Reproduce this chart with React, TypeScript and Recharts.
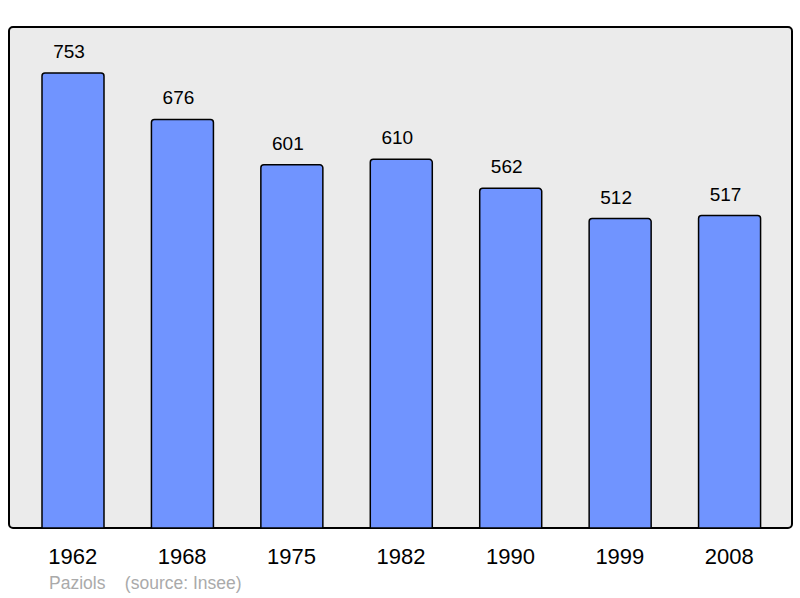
import React from 'react';
import { BarChart, Bar, XAxis, YAxis, LabelList } from 'recharts';

const years = ['1962', '1968', '1975', '1982', '1990', '1999', '2008'];
const population = [753, 676, 601, 610, 562, 512, 517];

const data = years.map((year, i) => ({ year, population: population[i] }));

const font = '"Liberation Sans", Arial, sans-serif';

const App = () => {
  return (
    <div style={{ position: 'absolute', left: 0, top: 0, width: 800, height: 598, background: '#fff', fontFamily: font }}>
      {/* plot frame */}
      <div
        style={{
          position: 'absolute',
          left: 8,
          top: 26,
          width: 785,
          height: 503,
          boxSizing: 'border-box',
          border: '2px solid #000',
          borderRadius: 5,
          background: '#ebebeb',
        }}
      />
      <div style={{ position: 'absolute', left: 0, top: 0 }}>
        <BarChart width={800} height={598} data={data} margin={{ top: 27, left: 9, right: 8, bottom: 30 }}>
          <XAxis
            dataKey="year"
            height={40}
            axisLine={false}
            tickLine={false}
            tickSize={0}
            tickMargin={20}
            padding={{ left: 9, right: 8 }}
            tick={{ fill: '#000', fontSize: 22, fontFamily: font }}
          />
          <YAxis hide domain={[0, 829]} />
          <Bar
            dataKey="population"
            fill="#7094ff"
            stroke="#000"
            strokeWidth={1.5}
            barSize={62}
            radius={[3, 3, 0, 0]}
            isAnimationActive={false}
          >
            <LabelList dataKey="population" position="top" offset={15} dx={-4} fill="#000" fontSize={19} fontFamily={font} />
          </Bar>
        </BarChart>
      </div>
      <div style={{ position: 'absolute', left: 49, top: 575, fontSize: 17.5, lineHeight: '17px', color: '#aaa', whiteSpace: 'pre' }}>
        {'Paziols    (source: Insee)'}
      </div>
    </div>
  );
};

export default App;
